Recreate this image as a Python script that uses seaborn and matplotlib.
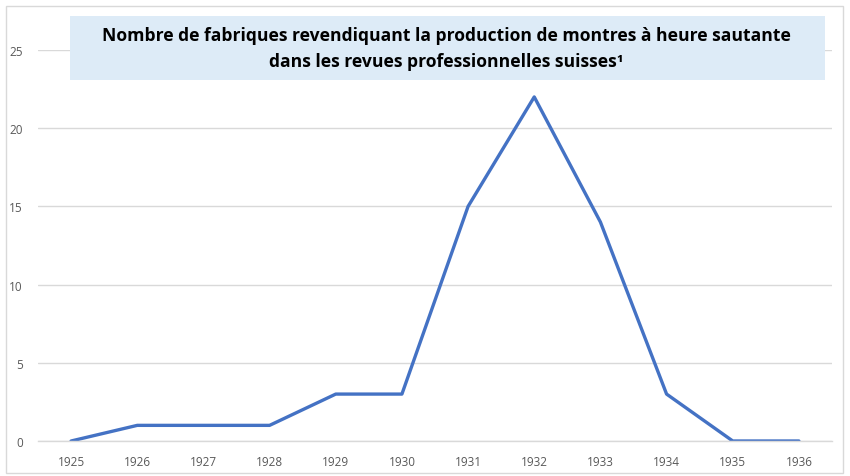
import matplotlib
matplotlib.use("Agg")
import matplotlib.pyplot as plt
import seaborn as sns
import pandas as pd
from matplotlib.patches import Rectangle

years = [1925, 1926, 1927, 1928, 1929, 1930, 1931, 1932, 1933, 1934, 1935, 1936]
fabriques = [0, 1, 1, 1, 3, 3, 15, 22, 14, 3, 0, 0]
yticks = [0, 5, 10, 15, 20, 25]
title = ("Nombre de fabriques revendiquant la production de montres à heure sautante\n"
         "dans les revues professionnelles suisses¹")

sns.set_theme(style="white")
plt.rcParams['font.family'] = ['Open Sans', 'DejaVu Sans']

W, H = 850, 477
fig = plt.figure(figsize=(W / 100, H / 100), dpi=100)
fig.patch.set_facecolor("white")

# chart border
fig.patches.append(Rectangle((6 / W, 1 - 474 / H), (843 - 6) / W, (474 - 7) / H,
                             transform=fig.transFigure, fill=False,
                             edgecolor="#D9D9D9", linewidth=1, zorder=0))

ax = fig.add_axes([38 / W, 1 - 442 / H, (832 - 38) / W, (442 - 51) / H])
df = pd.DataFrame({"year": years, "n": fabriques})
sns.lineplot(data=df, x="year", y="n", ax=ax, color="#4472C4", linewidth=2.4)

ax.set_xlim(1924.5, 1936.5)
ax.set_ylim(0, 25)
ax.set_xticks(years)
ax.set_xticklabels([str(y) for y in years])
ax.set_yticks(yticks)
ax.set_xlabel("")
ax.set_ylabel("")
ax.grid(axis="y", color="#D9D9D9", linewidth=1)
ax.set_axisbelow(True)
for s in ["top", "right", "left"]:
    ax.spines[s].set_visible(False)
ax.spines["bottom"].set_color("#D9D9D9")
ax.spines["bottom"].set_linewidth(1)
ax.tick_params(axis="both", length=0, labelsize=8.5, colors="#595959")
ax.tick_params(axis="x", pad=10)
ax.tick_params(axis="y", pad=11)

# title box
fig.patches.append(Rectangle((70 / W, 1 - 81 / H), (825 - 70) / W, (81 - 17) / H,
                             transform=fig.transFigure, facecolor="#DDEBF7",
                             edgecolor="none", zorder=2))
fig.text(446 / W, 1 - 49 / H, title, ha="center", va="center", fontsize=12.6,
         fontweight="bold", color="black", linespacing=1.55, zorder=3)

fig.savefig("out.png", dpi=100, facecolor="white")
